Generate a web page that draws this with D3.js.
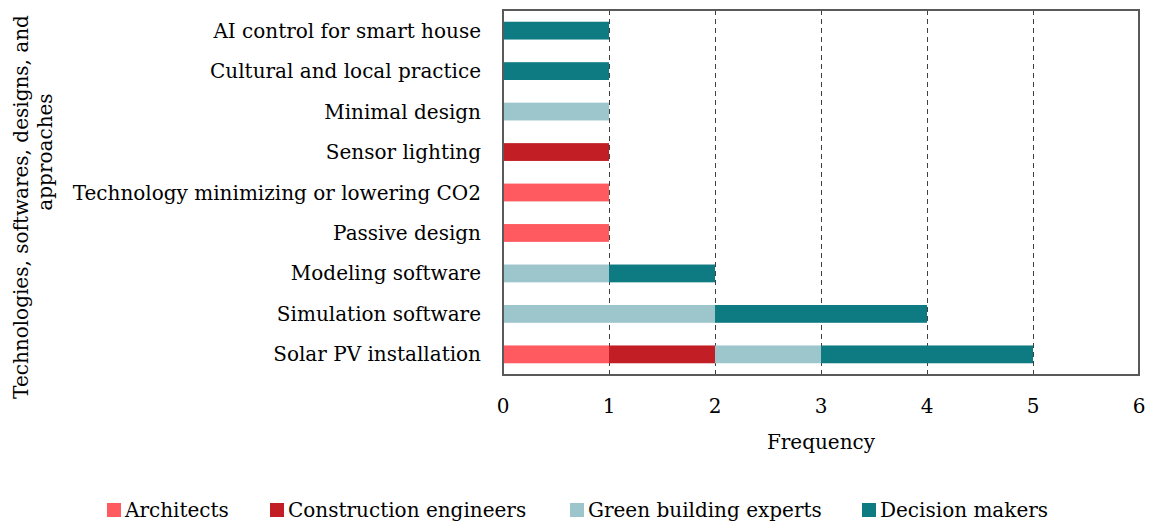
<!DOCTYPE html>
<html>
<head>
<meta charset="utf-8">
<script src="https://cdn.jsdelivr.net/npm/d3@7"></script>
<style>
  body { margin: 0; background: #fff; }
  text { font-family: "DejaVu Serif", serif; fill: #000; }
</style>
</head>
<body>
<script>
/* data */

var categories = ['AI control for smart house', 'Cultural and local practice', 'Minimal design',
  'Sensor lighting', 'Technology minimizing or lowering CO2', 'Passive design',
  'Modeling software', 'Simulation software', 'Solar PV installation'];
var groups = ['Architects', 'Construction engineers', 'Green building experts', 'Decision makers'];
var architects = [0, 0, 0, 0, 1, 1, 0, 0, 1];
var constructionEngineers = [0, 0, 0, 1, 0, 0, 0, 0, 1];
var greenBuildingExperts = [0, 0, 1, 0, 0, 0, 1, 2, 1];
var decisionMakers = [1, 1, 0, 0, 0, 0, 1, 2, 2];
var xTicks = [0, 1, 2, 3, 4, 5, 6];
var colours = ['#ff5a5f', '#c21e26', '#9cc6cc', '#0e7b82'];

var width = 1150, height = 524;
var margin = { top: 10, right: 11, bottom: 149, left: 503 };
var innerWidth = width - margin.left - margin.right;
var innerHeight = height - margin.top - margin.bottom;

var svg = d3.select('body').append('svg')
  .attr('width', width).attr('height', height);

var g = svg.append('g')
  .attr('transform', 'translate(' + margin.left + ',' + margin.top + ')');

var x = d3.scaleLinear().domain([0, 6]).range([0, innerWidth]);
var y = d3.scaleBand().domain(categories).range([0, innerHeight]).paddingInner(0.56).paddingOuter(0.29);

/* gridlines (behind the bars) */
g.selectAll('.grid').data(xTicks.slice(1, -1)).enter().append('line')
  .attr('x1', function (d) { return Math.round(x(d)) + 0.5; })
  .attr('x2', function (d) { return Math.round(x(d)) + 0.5; })
  .attr('y1', 0).attr('y2', innerHeight)
  .attr('stroke', '#404040').attr('stroke-width', 1).attr('stroke-dasharray', '5,4');

/* stacked bars */
var table = categories.map(function (c, i) {
  return { cat: c, Architects: architects[i], 'Construction engineers': constructionEngineers[i],
    'Green building experts': greenBuildingExperts[i], 'Decision makers': decisionMakers[i] };
});
var series = d3.stack().keys(groups)(table);

g.selectAll('.series').data(series).enter().append('g')
  .attr('fill', function (d, i) { return colours[i]; })
  .selectAll('rect').data(function (d) { return d; }).enter().append('rect')
  .attr('x', function (d) { return x(d[0]); })
  .attr('y', function (d) { return y(d.data.cat); })
  .attr('width', function (d) { return x(d[1]) - x(d[0]); })
  .attr('height', y.bandwidth());

/* frame */
g.append('rect').attr('width', innerWidth).attr('height', innerHeight)
  .attr('fill', 'none').attr('stroke', '#595959').attr('stroke-width', 2);

/* category labels */
g.selectAll('.cat').data(categories).enter().append('text')
  .attr('x', -22).attr('y', function (d) { return y(d) + y.bandwidth() / 2; })
  .attr('dy', '0.35em').attr('text-anchor', 'end').style('font-size', '20px')
  .text(function (d) { return d; });

/* x tick labels */
g.selectAll('.tick').data(xTicks).enter().append('text')
  .attr('x', function (d) { return x(d); }).attr('y', innerHeight + 38)
  .attr('text-anchor', 'middle').style('font-size', '20px')
  .text(function (d) { return d; });

g.append('text').attr('x', innerWidth / 2).attr('y', innerHeight + 74)
  .attr('text-anchor', 'middle').style('font-size', '20px').text('Frequency');

/* y axis title */
var yTitle = svg.append('text').attr('transform', 'translate(28,207) rotate(-90)')
  .attr('text-anchor', 'middle').style('font-size', '20px');
yTitle.append('tspan').attr('x', 0).attr('y', 0).text('Technologies, softwares, designs, and');
yTitle.append('tspan').attr('x', 55).attr('y', 24).text('approaches');

/* legend */
var legendX = [107, 270, 570, 862];
var legend = svg.selectAll('.legend').data(groups).enter().append('g')
  .attr('transform', function (d, i) { return 'translate(' + legendX[i] + ',510)'; });
legend.append('rect').attr('x', 0).attr('y', -7).attr('width', 14).attr('height', 14)
  .attr('fill', function (d, i) { return colours[i]; });
legend.append('text').attr('x', 18).attr('y', 0).attr('dy', '0.35em')
  .style('font-size', '20px').text(function (d) { return d; });
</script>
</body>
</html>
